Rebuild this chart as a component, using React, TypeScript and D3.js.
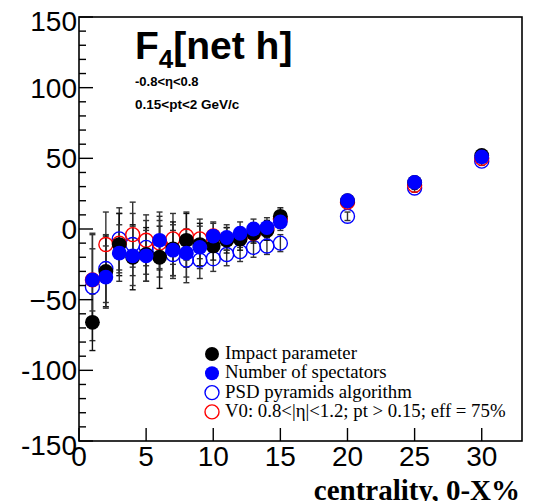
import { useEffect, useRef } from 'react'
import * as d3 from 'd3'

// centrality bins, 0-X %
const centrality = [1, 2, 3, 4, 5, 6, 7, 8, 9, 10, 11, 12, 13, 14, 15, 20, 25, 30]

// F4[net h] estimates per method
const impactParam = [-66, -30, -11, -20, -18, -20, -14, -8, -11, -12, -8, -7, -3, -1, 9, 20, 33, 52]
const impactParamErr = [20, 25, 22, 23, 19, 22, 19, 19, 15, 10, 9, 8, 7, 7, 6, 3, 3, 3]

const nSpectators = [-36, -34, -17, -19, -19, -8, -15, -17, -13, -5, -6, -3, 0, 1, 5, 20, 33, 51]
const nSpectatorsErr = [22, 22, 20, 21, 18, 20, 18, 17, 15, 10, 9, 8, 7, 7, 6, 3, 3, 3]

const psdPyramids = [-41, -28, -7, -11, -13, -14, -18, -22, -22, -21, -18, -16, -13, -12, -10, 9, 29, 48]
const psdPyramidsErr = [38, 24, 22, 22, 19, 20, 17, 16, 13, 9, 8, 7, 7, 6, 6, 3, 3, 3]

const v0 = [-36, -11, -10, -4, -8, -10, -7, -5, -7, -5, -7, -6, -3, 0, 7, 19, 31, 50]
const v0Err = [32, 23, 21, 23, 18, 19, 18, 17, 14, 9, 8, 7, 6, 6, 6, 3, 3, 3]

const legendLabels = [
    'Impact parameter',
    'Number of spectators',
    'PSD pyramids algorithm',
    'V0: 0.8<|η|<1.2; pt > 0.15; eff = 75%',
]

const yTickLabels: Record<number, string> = { 150: '150', 100: '100', 50: '50', 0: '0', '-50': '\u221250', '-100': '-100', '-150': '-150' }

export default function App() {
    const svgRef = useRef<SVGSVGElement | null>(null)

    useEffect(() => {
        const width = 542
        const height = 501
        const left = 79
        const right = 522
        const top = 17
        const bottom = 441

        const x = d3.scaleLinear().domain([0, 33]).range([left, right])
        const y = d3.scaleLinear().domain([-150, 150]).range([bottom, top])

        const series = [
            { values: impactParam, errs: impactParamErr, fill: 'black', stroke: 'black', errColor: '#111' },
            { values: nSpectators, errs: nSpectatorsErr, fill: '#0000ff', stroke: '#0000ff', errColor: '#333' },
            { values: psdPyramids, errs: psdPyramidsErr, fill: 'none', stroke: '#0000ff', errColor: '#333' },
            { values: v0, errs: v0Err, fill: 'none', stroke: '#ff0000', errColor: '#333' },
        ]
        // ROOT draw order: open markers under the full ones
        const drawOrder = [2, 3, 0, 1]

        const svg = d3.select(svgRef.current)
        svg.selectAll('*').remove()
        svg.attr('width', width).attr('height', height)

        const helv = '"Liberation Sans", Arial, Helvetica, sans-serif'
        const times = '"Liberation Serif", "Times New Roman", serif'

        // error bars
        const gErr = svg.append('g')
        drawOrder.forEach((si) => {
            const s = series[si]
            centrality.forEach((c, i) => {
                const cx = x(c)
                const y0 = y(s.values[i] - s.errs[i])
                const y1 = y(s.values[i] + s.errs[i])
                gErr.append('line').attr('x1', cx).attr('x2', cx).attr('y1', y0).attr('y2', y1)
                    .attr('stroke', s.errColor).attr('stroke-width', 1.4)
                ;[y0, y1].forEach((yy) => {
                    gErr.append('line').attr('x1', cx - 3).attr('x2', cx + 3).attr('y1', yy).attr('y2', yy)
                        .attr('stroke', s.errColor).attr('stroke-width', 1.4)
                })
            })
        })

        // markers
        drawOrder.forEach((si) => {
            const s = series[si]
            svg.append('g')
                .selectAll('circle')
                .data(centrality)
                .join('circle')
                .attr('cx', (d) => x(d))
                .attr('cy', (_d, i) => y(s.values[i]))
                .attr('r', s.fill === 'none' ? 7 : 7.4)
                .attr('fill', s.fill)
                .attr('stroke', s.fill === 'none' ? s.stroke : 'none')
                .attr('stroke-width', 1.4)
        })

        // frame
        svg.append('rect')
            .attr('x', left).attr('y', top)
            .attr('width', right - left).attr('height', bottom - top)
            .attr('fill', 'none').attr('stroke', 'black').attr('stroke-width', 1.6)

        // y axis ticks
        const yMajor = d3.range(-150, 151, 50)
        const yMinor = d3.range(-150, 151, 10).filter((v) => v % 50 !== 0)
        const gy = svg.append('g').attr('stroke', 'black').attr('stroke-width', 1.4)
        yMajor.forEach((v) => {
            gy.append('line').attr('x1', left).attr('x2', left + 14).attr('y1', y(v)).attr('y2', y(v))
        })
        yMinor.forEach((v) => {
            gy.append('line').attr('x1', left).attr('x2', left + 7).attr('y1', y(v)).attr('y2', y(v))
        })
        svg.append('g')
            .selectAll('text')
            .data(yMajor)
            .join('text')
            .attr('x', left - 2)
            .attr('y', (d) => y(d) + (Math.abs(d) === 150 ? 14 : 10))
            .attr('text-anchor', 'end')
            .style('font-family', helv)
            .style('font-size', '28px')
            .text((d) => yTickLabels[d])

        // x axis ticks
        const xMajor = d3.range(0, 31, 5)
        const gx = svg.append('g').attr('stroke', 'black').attr('stroke-width', 1.4)
        xMajor.forEach((v) => {
            gx.append('line').attr('x1', x(v)).attr('x2', x(v)).attr('y1', bottom).attr('y2', bottom - 13)
        })
        svg.append('g')
            .selectAll('text')
            .data(xMajor)
            .join('text')
            .attr('x', (d) => x(d))
            .attr('y', bottom + 25)
            .attr('text-anchor', 'middle')
            .style('font-family', helv)
            .style('font-size', '28px')
            .text((d) => String(d))

        // axis title, cut by the canvas bottom like the original
        svg.append('text')
            .attr('x', 520)
            .attr('y', 500)
            .attr('text-anchor', 'end')
            .style('font-family', times)
            .style('font-weight', 'bold')
            .style('font-size', '29px')
            .text('centrality, 0-X%')

        // title
        const title = svg.append('text')
            .attr('x', 135)
            .attr('y', 59)
            .style('font-family', helv)
            .style('font-weight', 'bold')
            .style('font-size', '39px')
        title.append('tspan').text('F')
        title.append('tspan').attr('dy', 9).style('font-size', '26px').text('4')
        title.append('tspan').attr('dy', -9).text('[net h]')

        svg.append('text')
            .attr('x', 135).attr('y', 86)
            .style('font-family', helv).style('font-weight', 'bold').style('font-size', '13px')
            .text('-0.8<η<0.8')
        svg.append('text')
            .attr('x', 135).attr('y', 109)
            .style('font-family', helv).style('font-weight', 'bold').style('font-size', '13.5px')
            .text('0.15<pt<2 GeV/c')

        // legend
        const legendStyles = [
            { fill: 'black', stroke: 'none' },
            { fill: '#0000ff', stroke: 'none' },
            { fill: 'none', stroke: '#0000ff' },
            { fill: 'none', stroke: '#ff0000' },
        ]
        const lg = svg.append('g')
        legendLabels.forEach((label, i) => {
            const ly = 354 + i * 19.3
            lg.append('circle')
                .attr('cx', 212).attr('cy', ly).attr('r', 7)
                .attr('fill', legendStyles[i].fill)
                .attr('stroke', legendStyles[i].stroke)
                .attr('stroke-width', 1.4)
            lg.append('text')
                .attr('x', 225).attr('y', ly + 5)
                .style('font-family', times)
                .style('font-size', '18.8px')
                .text(label)
        })
    }, [])

    return (
        <div style={{ position: 'absolute', left: 0, top: 0 }}>
            <svg ref={svgRef}></svg>
        </div>
    )
}
